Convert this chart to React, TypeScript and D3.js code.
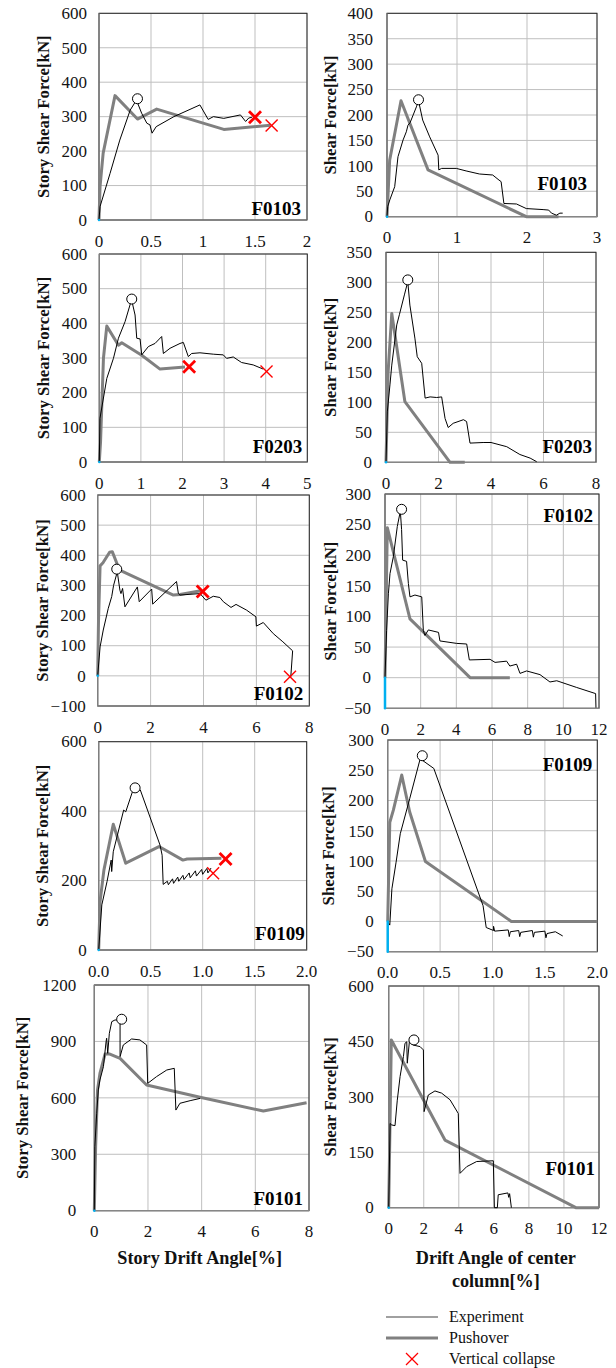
import React from "react";
import * as d3 from "d3";

type Pt = [number, number];

// ---------- F0103 ----------
const f0103StoryExp: Pt[] = [[0,0],[0.01,39],[0.106,135],[0.2,232],[0.3,319],[0.36,348],[0.41,310],[0.46,281],[0.49,276],[0.51,252],[0.55,271],[0.72,300],[0.97,334],[1.05,292],[1.1,300],[1.2,295],[1.36,305],[1.41,286],[1.44,296],[1.47,298]];
const f0103StoryPush: Pt[] = [[0,0],[0.01,97],[0.04,194],[0.154,361],[0.37,293],[0.555,322],[1.2,263],[1.65,275]];
const f0103StoryPeak: Pt[] = [[0.37,352]];
const f0103StoryCollapseBold: Pt[] = [[1.5,298]];
const f0103StoryCollapseThin: Pt[] = [[1.66,274]];

const f0103ShearExp: Pt[] = [[0,0],[0.01,20],[0.04,33],[0.11,59],[0.157,118],[0.23,151],[0.276,167],[0.3,180],[0.33,185],[0.42,216],[0.45,228],[0.51,190],[0.61,157],[0.73,121],[0.74,92],[0.78,95],[0.99,95],[1.13,90],[1.32,84],[1.51,82],[1.6,72],[1.63,69],[1.67,26],[1.85,25],[1.99,16],[2.23,14],[2.31,13],[2.35,7],[2.42,3],[2.47,7],[2.51,7]];
const f0103ShearPush: Pt[] = [[0,0],[0.038,111],[0.2,228],[0.586,92],[1.99,0],[2.45,0]];
const f0103ShearPeak: Pt[] = [[0.45,230]];

// ---------- F0203 ----------
const f0203StoryExp: Pt[] = [[0,0],[0.016,126],[0.18,241],[0.34,299],[0.46,357],[0.62,405],[0.75,458],[0.78,466],[0.86,424],[0.9,357],[0.98,355],[1.02,309],[1.18,333],[1.34,342],[1.5,362],[1.54,313],[1.7,328],[1.94,342],[2.02,345],[2.14,304],[2.22,313],[2.42,315],[2.74,311],[2.98,309],[3.06,299],[3.22,303],[3.42,287],[3.7,280],[3.94,268]];
const f0203StoryPush: Pt[] = [[0,0],[0.03,58],[0.1,300],[0.18,392],[0.46,337],[0.54,344],[1.02,308],[1.46,268],[2.06,274]];
const f0203StoryPeak: Pt[] = [[0.78,470]];
const f0203StoryCollapseBold: Pt[] = [[2.16,275]];
const f0203StoryCollapseThin: Pt[] = [[4.02,261]];

const f0203ShearExp: Pt[] = [[0,0],[0.05,84],[0.15,129],[0.22,162],[0.41,229],[0.51,246],[0.7,279],[0.83,301],[0.91,262],[1.1,207],[1.19,176],[1.36,165],[1.49,107],[1.68,109],[1.93,108],[2.12,109],[2.25,73],[2.37,58],[2.56,65],[2.95,71],[3.07,68],[3.2,32],[3.7,33],[4.0,33],[4.6,26],[5.1,13],[5.49,7],[5.74,1]];
const f0203ShearPush: Pt[] = [[0,0],[0.08,150],[0.22,248],[0.72,101],[2.44,0],[3.0,0]];
const f0203ShearPeak: Pt[] = [[0.83,304]];

// ---------- F0102 ----------
const f0102StoryExp: Pt[] = [[0,0],[0.09,96],[0.21,152],[0.4,224],[0.53,263],[0.6,300],[0.74,345],[0.84,284],[0.88,273],[0.94,290],[1.03,229],[1.5,295],[1.57,246],[2.04,288],[2.08,238],[2.98,313],[3.05,273],[3.11,268],[3.87,273],[4.09,251],[4.37,264],[4.62,260],[4.75,246],[5.04,227],[5.23,237],[5.63,218],[5.98,196],[6.0,165],[6.26,177],[6.64,140],[7.0,113],[7.37,83],[7.3,-3]];
const f0102StoryPush: Pt[] = [[0,0],[0.03,180],[0.09,365],[0.2,375],[0.45,410],[0.55,412],[0.75,368],[0.85,350],[2.86,268],[3.11,270],[3.95,283]];
const f0102StoryPeak: Pt[] = [[0.72,354]];
const f0102StoryCollapseBold: Pt[] = [[3.97,280]];
const f0102StoryCollapseThin: Pt[] = [[7.27,-3]];

const f0102ShearExp: Pt[] = [[0,0],[0.09,77],[0.19,137],[0.28,170],[0.47,198],[0.69,247],[0.86,272],[0.93,242],[0.99,192],[1.21,190],[1.31,154],[1.4,132],[1.68,135],[2.06,132],[2.15,77],[2.24,69],[2.43,78],[3.0,74],[3.08,60],[4.02,56],[4.58,55],[4.73,29],[5.89,30],[6.17,25],[6.82,27],[7.0,19],[7.38,22],[7.57,7],[7.94,11],[8.69,5],[9.25,-7],[9.63,-5],[10.75,-16],[11.81,-26],[11.83,-49]];
const f0102ShearPush: Pt[] = [[0,0],[0.13,245],[1.4,96],[4.77,0],[7.0,0]];
const f0102ShearPeak: Pt[] = [[0.93,275]];

// ---------- F0109 ----------
const f0109StoryExp: Pt[] = [[0,0],[0.03,130],[0.08,197],[0.12,259],[0.125,226],[0.14,283],[0.24,403],[0.26,398],[0.33,461],[0.4,461],[0.59,302],[0.61,273],[0.62,189],[0.66,198],[0.67,188],[0.71,205],[0.72,192],[0.76,210],[0.77,198],[0.81,215],[0.82,203],[0.87,222],[0.88,208],[0.93,228],[0.94,213],[0.99,232],[1.0,218],[1.04,235],[1.05,222],[1.08,236]];
const f0109StoryPush: Pt[] = [[0,0],[0.013,139],[0.05,230],[0.14,362],[0.26,250],[0.58,298],[0.81,259],[0.85,262],[1.18,264]];
const f0109StoryPeak: Pt[] = [[0.35,467]];
const f0109StoryCollapseBold: Pt[] = [[1.22,262]];
const f0109StoryCollapseThin: Pt[] = [[1.1,221]];

const f0109ShearExp: Pt[] = [[0,0],[0.02,-6],[0.04,54],[0.08,98],[0.12,145],[0.21,203],[0.31,269],[0.44,253],[0.91,26],[0.94,-10],[1.01,-15],[1.01,-8],[1.02,-16],[1.15,-14],[1.16,-25],[1.17,-17],[1.25,-15],[1.26,-25],[1.27,-18],[1.38,-15],[1.39,-26],[1.4,-18],[1.5,-16],[1.51,-27],[1.52,-20],[1.6,-17],[1.67,-24]];
const f0109ShearPush: Pt[] = [[0,0],[0.02,164],[0.054,184],[0.134,242],[0.21,181],[0.36,99],[1.18,0],[2.0,0]];
const f0109ShearPeak: Pt[] = [[0.33,274]];

// ---------- F0101 ----------
const f0101StoryExp: Pt[] = [[0,0],[0.02,340],[0.09,518],[0.15,642],[0.21,695],[0.34,766],[0.44,900],[0.46,917],[0.5,837],[0.56,943],[0.65,1005],[0.77,1014],[0.96,1014],[0.96,819],[1.08,881],[1.39,913],[1.7,908],[1.95,881],[1.99,677],[2.32,713],[2.7,748],[2.98,757],[3.04,535],[3.19,571],[3.57,585],[3.94,597]];
const f0101StoryPush: Pt[] = [[0,0],[0.05,340],[0.12,642],[0.21,730],[0.4,833],[0.58,833],[0.96,810],[1.95,668],[3.94,603],[6.3,530],[7.91,574]];
const f0101StoryPeak: Pt[] = [[1.02,1018]];

const f0101ShearExp: Pt[] = [[0,0],[0.08,228],[0.17,224],[0.36,222],[0.49,291],[0.65,355],[0.84,409],[0.93,445],[1.03,449],[1.06,391],[1.18,449],[1.3,445],[1.41,440],[1.79,436],[1.98,427],[2.02,260],[2.26,305],[2.64,316],[3.02,310],[3.5,292],[3.97,255],[4.07,93],[4.45,111],[5.02,125],[5.97,127],[6.03,0],[6.2,0],[6.25,35],[6.8,40],[6.85,28],[6.9,38],[7.0,0]];
const f0101ShearPush: Pt[] = [[0,0],[0.15,454],[3.21,183],[10.68,0],[12,0]];
const f0101ShearPeak: Pt[] = [[1.44,454]];

const blueOrigin: Pt[] = [[0,0],[0,0]];
const blueDown: Pt[] = [[0,0],[0,-50]];

const panelNames = ["F0103", "F0103", "F0203", "F0203", "F0102", "F0102", "F0109", "F0109", "F0101", "F0101"];
const storyTitle = "Story Shear Force[kN]";
const shearTitle = "Shear Force[kN]";
const xTitleLeft = "Story Drift Angle[%]";
const xTitleRight = ["Drift Angle of center", "column[%]"];
const legendLabels = ["Experiment", "Pushover", "Vertical collapse"];

interface PanelData {
  name: string;
  yTitle: string;
  xDomain: [number, number];
  xStep: number;
  xFmt: string;
  yDomain: [number, number];
  yStep: number;
  exp: Pt[];
  push: Pt[];
  peak: Pt[];
  bold: Pt[];
  thin: Pt[];
  blue: Pt[];
}

const panels: PanelData[] = [
  { name: panelNames[0], yTitle: storyTitle, xDomain: [0, 2], xStep: 0.5, xFmt: "~g", yDomain: [0, 600], yStep: 100, exp: f0103StoryExp, push: f0103StoryPush, peak: f0103StoryPeak, bold: f0103StoryCollapseBold, thin: f0103StoryCollapseThin, blue: blueOrigin },
  { name: panelNames[1], yTitle: shearTitle, xDomain: [0, 3], xStep: 1, xFmt: "~g", yDomain: [0, 400], yStep: 50, exp: f0103ShearExp, push: f0103ShearPush, peak: f0103ShearPeak, bold: [], thin: [], blue: blueOrigin },
  { name: panelNames[2], yTitle: storyTitle, xDomain: [0, 5], xStep: 1, xFmt: "~g", yDomain: [0, 600], yStep: 100, exp: f0203StoryExp, push: f0203StoryPush, peak: f0203StoryPeak, bold: f0203StoryCollapseBold, thin: f0203StoryCollapseThin, blue: blueOrigin },
  { name: panelNames[3], yTitle: shearTitle, xDomain: [0, 8], xStep: 2, xFmt: "~g", yDomain: [0, 350], yStep: 50, exp: f0203ShearExp, push: f0203ShearPush, peak: f0203ShearPeak, bold: [], thin: [], blue: blueOrigin },
  { name: panelNames[4], yTitle: storyTitle, xDomain: [0, 8], xStep: 2, xFmt: "~g", yDomain: [-100, 600], yStep: 100, exp: f0102StoryExp, push: f0102StoryPush, peak: f0102StoryPeak, bold: f0102StoryCollapseBold, thin: f0102StoryCollapseThin, blue: blueOrigin },
  { name: panelNames[5], yTitle: shearTitle, xDomain: [0, 12], xStep: 2, xFmt: "~g", yDomain: [-50, 300], yStep: 50, exp: f0102ShearExp, push: f0102ShearPush, peak: f0102ShearPeak, bold: [], thin: [], blue: blueDown },
  { name: panelNames[6], yTitle: storyTitle, xDomain: [0, 2], xStep: 0.5, xFmt: ".1f", yDomain: [0, 600], yStep: 200, exp: f0109StoryExp, push: f0109StoryPush, peak: f0109StoryPeak, bold: f0109StoryCollapseBold, thin: f0109StoryCollapseThin, blue: blueOrigin },
  { name: panelNames[7], yTitle: shearTitle, xDomain: [0, 2], xStep: 0.5, xFmt: ".1f", yDomain: [-50, 300], yStep: 50, exp: f0109ShearExp, push: f0109ShearPush, peak: f0109ShearPeak, bold: [], thin: [], blue: blueDown },
  { name: panelNames[8], yTitle: storyTitle, xDomain: [0, 8], xStep: 2, xFmt: "~g", yDomain: [0, 1200], yStep: 300, exp: f0101StoryExp, push: f0101StoryPush, peak: f0101StoryPeak, bold: [], thin: [], blue: blueOrigin },
  { name: panelNames[9], yTitle: shearTitle, xDomain: [0, 12], xStep: 2, xFmt: "~g", yDomain: [0, 600], yStep: 150, exp: f0101ShearExp, push: f0101ShearPush, peak: f0101ShearPeak, bold: [], thin: [], blue: blueOrigin },
];

// layout (pixel boxes)
interface Layout { l: number; r: number; t: number; b: number; titleX: number; gap: number; labelTop: boolean; labelDx: number; labelDy: number; }
const layouts: Layout[] = [
  { l: 99, r: 307, t: 13.3, b: 220, titleX: 43, gap: 12, labelTop: false, labelDx: 6, labelDy: 5 },
  { l: 387, r: 597, t: 13.3, b: 216.7, titleX: 330, gap: 14, labelTop: false, labelDx: 10, labelDy: 27 },
  { l: 99.3, r: 307.3, t: 254, b: 462, titleX: 43, gap: 12, labelTop: false, labelDx: 5, labelDy: 9 },
  { l: 386, r: 596, t: 252.3, b: 462.3, titleX: 330, gap: 14, labelTop: false, labelDx: 4, labelDy: 9 },
  { l: 97.7, r: 309.3, t: 495, b: 706, titleX: 42, gap: 12, labelTop: false, labelDx: 6, labelDy: 6 },
  { l: 385, r: 599, t: 494, b: 708.3, titleX: 330, gap: 14, labelTop: true, labelDx: 6, labelDy: 28 },
  { l: 98.7, r: 306.7, t: 741.7, b: 950, titleX: 42, gap: 12, labelTop: false, labelDx: 2, labelDy: 10 },
  { l: 387.7, r: 597.3, t: 740, b: 951.7, titleX: 328, gap: 14, labelTop: true, labelDx: 5, labelDy: 31 },
  { l: 94.3, r: 309, t: 985, b: 1210.7, titleX: 22, gap: 18, labelTop: false, labelDx: 6, labelDy: 6 },
  { l: 388.7, r: 599, t: 986, b: 1207.7, titleX: 330, gap: 15, labelTop: false, labelDx: 4, labelDy: 33 },
];

const FONT = "'Liberation Serif', 'Times New Roman', serif";
const GRID = "#bfbfbf";
const AXIS = "#868686";
const PUSH = "#808080";
const RED = "#ff0000";
const BLUE = "#00b0f0";
const INK = "#141414";

function Cross({ cx, cy, s, w }: { cx: number; cy: number; s: number; w: number }) {
  return (
    <g stroke={RED} strokeWidth={w}>
      <line x1={cx - s} y1={cy - s} x2={cx + s} y2={cy + s} />
      <line x1={cx - s} y1={cy + s} x2={cx + s} y2={cy - s} />
    </g>
  );
}

function Panel({ p, lay }: { p: PanelData; lay: Layout }) {
  const x = d3.scaleLinear().domain(p.xDomain).range([lay.l, lay.r]);
  const y = d3.scaleLinear().domain(p.yDomain).range([lay.b, lay.t]);
  const line = d3.line<Pt>().x((d) => x(d[0])).y((d) => y(d[1]));
  const xTicks = d3.range(p.xDomain[0], p.xDomain[1] + p.xStep / 2, p.xStep);
  const yTicks = d3.range(p.yDomain[0], p.yDomain[1] + p.yStep / 2, p.yStep);
  const fx = d3.format(p.xFmt);
  const cy = (lay.t + lay.b) / 2;
  return (
    <g>
      {xTicks.map((t, i) => (
        <line key={"gx" + i} x1={x(t)} x2={x(t)} y1={lay.t} y2={lay.b} stroke={GRID} strokeWidth={1} />
      ))}
      {yTicks.map((t, i) => (
        <line key={"gy" + i} x1={lay.l} x2={lay.r} y1={y(t)} y2={y(t)} stroke={GRID} strokeWidth={1} />
      ))}
      <rect x={lay.l} y={lay.t} width={lay.r - lay.l} height={lay.b - lay.t} fill="none" stroke="#262626" strokeWidth={1} />
      <line x1={lay.l} x2={lay.l} y1={lay.t} y2={lay.b} stroke={AXIS} strokeWidth={1.2} />
      <line x1={lay.l} x2={lay.r} y1={lay.b} y2={lay.b} stroke={AXIS} strokeWidth={1.2} />
      {yTicks.map((t, i) => (
        <text key={"ty" + i} x={lay.l - lay.gap} y={y(t)} dy="0.34em" textAnchor="end" fontFamily={FONT} fontSize={17} fill={INK}>{d3.format("~g")(t)}</text>
      ))}
      {xTicks.map((t, i) => (
        <text key={"tx" + i} x={x(t)} y={lay.b + 21} dy="0.34em" textAnchor="middle" fontFamily={FONT} fontSize={17} fill={INK}>{fx(t)}</text>
      ))}
      <text transform={`translate(${lay.titleX},${cy}) rotate(-90)`} dy="0.34em" textAnchor="middle" fontFamily={FONT} fontSize={16.8} fontWeight="bold" fill="#111">{p.yTitle}</text>
      <path d={line(p.push) || ""} fill="none" stroke={PUSH} strokeWidth={3} strokeLinejoin="round" />
      <path d={line(p.exp) || ""} fill="none" stroke="#000" strokeWidth={1} strokeLinejoin="round" />
      <path d={line(p.blue) || ""} fill="none" stroke={BLUE} strokeWidth={2.5} strokeLinecap="round" />
      {p.peak.map((d, i) => (
        <circle key={"pk" + i} cx={x(d[0])} cy={y(d[1])} r={5} fill="#fff" stroke="#000" strokeWidth={1} />
      ))}
      {p.bold.map((d, i) => (
        <Cross key={"cb" + i} cx={x(d[0])} cy={y(d[1])} s={6} w={2.8} />
      ))}
      {p.thin.map((d, i) => (
        <Cross key={"ct" + i} cx={x(d[0])} cy={y(d[1])} s={6} w={1.4} />
      ))}
      <text x={lay.r - lay.labelDx} y={lay.labelTop ? lay.t + lay.labelDy : lay.b - lay.labelDy} textAnchor="end" fontFamily={FONT} fontSize={19} fontWeight="bold" fill="#000">{p.name}</text>
    </g>
  );
}

export default function App() {
  const leftBottom = layouts[8];
  const rightBottom = layouts[9];
  return (
    <svg width={616} height={1368} style={{ position: "absolute", left: 0, top: 0, background: "#fff" }}>
      <rect width={616} height={1368} fill="#fff" />
      {panels.map((p, i) => (
        <Panel key={i} p={p} lay={layouts[i]} />
      ))}
      <text x={(leftBottom.l + leftBottom.r) / 2 - 2} y={1258} dy="0.34em" textAnchor="middle" fontFamily={FONT} fontSize={18.2} fontWeight="bold" fill="#111">{xTitleLeft}</text>
      <text x={(rightBottom.l + rightBottom.r) / 2 + 2} y={1258} dy="0.34em" textAnchor="middle" fontFamily={FONT} fontSize={18.2} fontWeight="bold" fill="#111">{xTitleRight[0]}</text>
      <text x={(rightBottom.l + rightBottom.r) / 2 + 2} y={1281} dy="0.34em" textAnchor="middle" fontFamily={FONT} fontSize={18.2} fontWeight="bold" fill="#111">{xTitleRight[1]}</text>
      <g>
        <line x1={386} x2={438} y1={1317} y2={1317} stroke="#808080" strokeWidth={1.3} />
        <text x={449} y={1317} dy="0.34em" fontFamily={FONT} fontSize={16} fill="#111">{legendLabels[0]}</text>
        <line x1={386} x2={438} y1={1338} y2={1338} stroke={PUSH} strokeWidth={3} />
        <text x={449} y={1338} dy="0.34em" fontFamily={FONT} fontSize={16} fill="#111">{legendLabels[1]}</text>
        <Cross cx={412} cy={1359} s={6} w={1.2} />
        <text x={449} y={1359} dy="0.34em" fontFamily={FONT} fontSize={16} fill="#111">{legendLabels[2]}</text>
      </g>
    </svg>
  );
}
